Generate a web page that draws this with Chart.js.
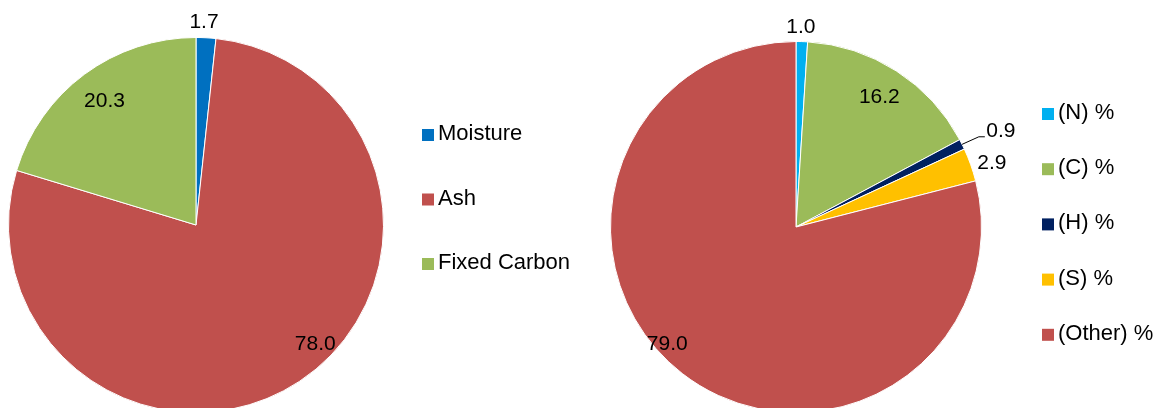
<!DOCTYPE html>
<html>
<head>
<meta charset="utf-8">
<script src="https://cdn.jsdelivr.net/npm/chart.js@4/dist/chart.umd.min.js"></script>
<style>
  html, body { margin: 0; padding: 0; width: 1157px; height: 408px; overflow: hidden; background: #fff; }
  #left { position: absolute; left: 0; top: 0; }
  #right { position: absolute; left: 580px; top: 0; }
</style>
</head>
<body>
<canvas id="left" width="580" height="430"></canvas>
<canvas id="right" width="577" height="430"></canvas>
<script>
// proximate analysis
const proxLabels = ['Moisture', 'Ash', 'Fixed Carbon'];
const proxValues = [1.7, 78.0, 20.3];
const proxColors = ['#0070C0', '#C0504D', '#9BBB59'];

// ultimate analysis
const ultLabels = ['(N) %', '(C) %', '(H) %', '(S) %', '(Other) %'];
const ultValues = [1.0, 16.2, 0.9, 2.9, 79.0];
const ultColors = ['#00B0F0', '#9BBB59', '#002060', '#FFC000', '#C0504D'];

const FONT = '"Liberation Sans", Arial, sans-serif';

// value labels, placed around each arc
const pieLabels = {
    id: 'pieLabels',
    afterDatasetsDraw(chart, args, opts) {
        const ctx = chart.ctx;
        const meta = chart.getDatasetMeta(0);
        const vals = chart.data.datasets[0].data;
        ctx.save();
        ctx.font = '21px ' + FONT;
        ctx.fillStyle = '#000';
        ctx.strokeStyle = '#000';
        ctx.lineWidth = 1;
        ctx.textAlign = 'center';
        ctx.textBaseline = 'middle';
        meta.data.forEach((arc, i) => {
            const p = opts.place[i];
            const midRaw = (arc.startAngle + arc.endAngle) / 2;
            const mid = midRaw + p.da * Math.PI / 180;
            const r = arc.outerRadius * p.f;
            const x = arc.x + Math.cos(mid) * r;
            const y = arc.y + Math.sin(mid) * r;
            if (p.leader) {
                ctx.beginPath();
                ctx.moveTo(arc.x + Math.cos(midRaw) * arc.outerRadius, arc.y + Math.sin(midRaw) * arc.outerRadius);
                ctx.lineTo(x - 22, y + 6);
                ctx.lineTo(x - 16, y + 6);
                ctx.stroke();
            }
            ctx.fillText(vals[i].toFixed(1), x, y);
        });
        ctx.restore();
    }
};

// legend drawn beside the pie
const sideLegend = {
    id: 'sideLegend',
    afterDraw(chart, args, opts) {
        const ctx = chart.ctx;
        const ds = chart.data.datasets[0];
        ctx.save();
        ctx.font = '22px ' + FONT;
        ctx.textAlign = 'left';
        ctx.textBaseline = 'middle';
        chart.data.labels.forEach((lab, i) => {
            const y = opts.y + i * opts.gap;
            ctx.fillStyle = ds.backgroundColor[i];
            ctx.fillRect(opts.x, y - 6, 12, 12);
            ctx.fillStyle = '#000';
            ctx.fillText(lab, opts.x + 16, y - 1);
        });
        ctx.restore();
    }
};

function makePie(id, labels, values, colors, padding, place, legend) {
    new Chart(document.getElementById(id), {
        type: 'pie',
        data: {
            labels: labels,
            datasets: [{
                data: values,
                backgroundColor: colors,
                borderColor: '#fff',
                borderWidth: 1
            }]
        },
        options: {
            responsive: false,
            animation: false,
            layout: { padding: padding },
            plugins: {
                legend: { display: false },
                tooltip: { enabled: false },
                pieLabels: { place: place },
                sideLegend: legend
            }
        },
        plugins: [pieLabels, sideLegend]
    });
}

makePie('left', proxLabels, proxValues, proxColors,
    { left: 8, top: 37, right: 196, bottom: 17 },
    [{ f: 1.08, da: -0.8 }, { f: 0.90, da: -11.5 }, { f: 0.82, da: 0 }],
    { x: 422, y: 135, gap: 64.5 });

makePie('right', ultLabels, ultValues, ultColors,
    { left: 30, top: 41, right: 175, bottom: 17 },
    [{ f: 1.08, da: -0.4 }, { f: 0.83, da: 0 }, { f: 1.22, da: 1.3, leader: true },
     { f: 1.11, da: 1.6 }, { f: 0.94, da: 9.8 }],
    { x: 462, y: 114, gap: 55.2 });
</script>
</body>
</html>
